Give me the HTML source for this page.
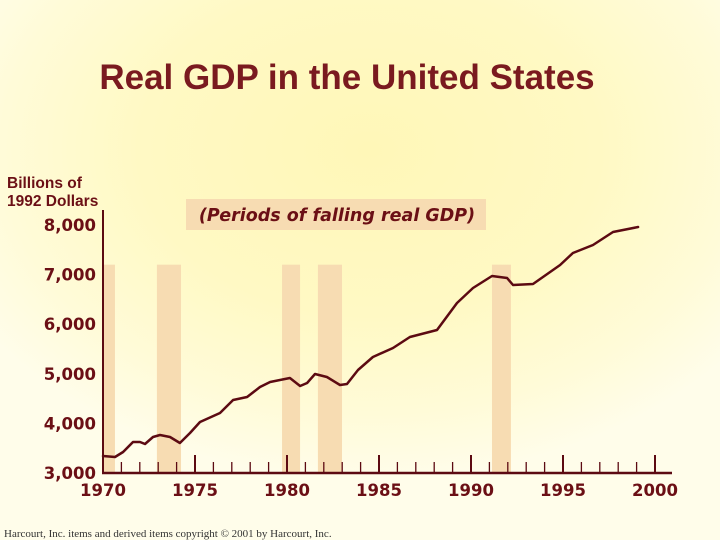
<!DOCTYPE html>
<html><head><meta charset="utf-8">
<style>
html,body{margin:0;padding:0}
body{width:720px;height:540px;overflow:hidden;background:#fffde8;font-family:"Liberation Sans",sans-serif}
#bg{position:absolute;left:0;top:0;width:720px;height:540px;background:radial-gradient(ellipse 460px 330px at 370px 150px,#fff7b8 0%,#fff9c4 50%,#fffbd8 80%,#fffdea 100%)}
svg{position:absolute;left:0;top:0}
</style></head><body>
<div id="bg"></div>
<svg id="chart" width="720" height="540">
<text x="347" y="89" text-anchor="middle" font-family="Liberation Sans" font-weight="bold" font-size="35" fill="#7a1a1f">Real GDP in the United States</text>
<text x="7" y="188" font-weight="bold" font-size="15.5" fill="#6b0f15">Billions of</text>
<text x="7" y="206" font-weight="bold" font-size="15.5" fill="#6b0f15">1992 Dollars</text>
<rect x="186" y="199" width="300" height="31" fill="#f7dcb2"/>
<text x="337" y="221" text-anchor="middle" font-family="DejaVu Sans" font-style="italic" font-weight="bold" font-size="17.5" fill="#6b0f15">(Periods of falling real GDP)</text>
<g id="bars"></g>
<g id="axes"></g>
<g id="line"></g>
<text x="4" y="537" font-family="Liberation Serif" font-size="11" fill="#333">Harcourt, Inc. items and derived items copyright © 2001 by Harcourt, Inc.</text>
</svg>
<script>
const years=[1970.0,1970.65,1971.09,1971.63,1972.01,1972.28,1972.72,1973.10,1973.64,1974.18,1974.73,1975.27,1976.36,1977.07,1977.83,1978.53,1979.08,1980.16,1980.71,1981.09,1981.52,1982.17,1982.88,1983.26,1983.86,1984.67,1985.76,1986.68,1988.15,1989.24,1990.11,1991.14,1991.96,1992.28,1993.37,1994.84,1995.54,1996.63,1997.72,1999.08];
const gdp=[3343,3323,3423,3625,3625,3585,3726,3766,3726,3605,3806,4028,4210,4472,4532,4734,4835,4915,4754,4815,4996,4935,4774,4794,5077,5339,5520,5742,5883,6427,6730,6972,6931,6790,6810,7194,7435,7597,7859,7960];
const recessionStart=[1970.0,1972.93,1979.73,1981.68,1991.14];
const recessionEnd=[1970.65,1974.24,1980.71,1982.99,1992.17];
const yTicks=[3000,4000,5000,6000,7000,8000];
const yTickLabels=["3,000","4,000","5,000","6,000","7,000","8,000"];
const xTicks=[1970,1975,1980,1985,1990,1995,2000];
const xTickLabels=["1970","1975","1980","1985","1990","1995","2000"];
const recessionTop=7200;

const X=y=>103+(y-1970)*18.4;
const Y=v=>473-(v-3000)*0.0496;
const NS="http://www.w3.org/2000/svg";
function mk(tag,attrs,parent){const e=document.createElementNS(NS,tag);for(const k in attrs)e.setAttribute(k,attrs[k]);parent.appendChild(e);return e;}
const bars=document.getElementById('bars'),axes=document.getElementById('axes'),line=document.getElementById('line');
for(let i=0;i<recessionStart.length;i++){
  const r=mk('rect',{x:X(recessionStart[i]),y:Y(recessionTop),width:X(recessionEnd[i])-X(recessionStart[i]),height:Y(3000)-Y(recessionTop),fill:'#f7dcb2'},bars);
  
  
}
const col='#5c0a12';
const ya=mk('line',{x1:X(1970),y1:210,x2:X(1970),y2:Y(3000),stroke:col,'stroke-width':2},axes);


const xa=mk('line',{x1:X(1970)-1,y1:Y(3000),x2:672,y2:Y(3000),stroke:col,'stroke-width':2.5},axes);


for(let y=1971;y<=2000;y++){
  const major=y%5===0;
  const t=mk('line',{x1:X(y),y1:Y(3000)-(major?18:11),x2:X(y),y2:Y(3000),stroke:col,'stroke-width':major?2:1.3},axes);
  
  
}
for(let i=0;i<yTicks.length;i++){
  const t=mk('text',{x:96,y:Y(yTicks[i])+6,'text-anchor':'end','font-family':'DejaVu Sans','font-weight':'bold','font-size':16.5,fill:'#6b0f15'},axes);
  t.textContent=yTickLabels[i];
  
  
}
for(let i=0;i<xTicks.length;i++){
  const t=mk('text',{x:X(xTicks[i]),y:496,'text-anchor':'middle','font-family':'DejaVu Sans','font-weight':'bold','font-size':16.5,fill:'#6b0f15'},axes);
  t.textContent=xTickLabels[i];
  
  
}
const pts=years.map((y,i)=>X(y).toFixed(1)+','+Y(gdp[i]).toFixed(1)).join(' ');
const pl=mk('polyline',{points:pts,fill:'none',stroke:col,'stroke-width':2.5,'stroke-linejoin':'round','stroke-linecap':'round'},line);


</script>
</body></html>
